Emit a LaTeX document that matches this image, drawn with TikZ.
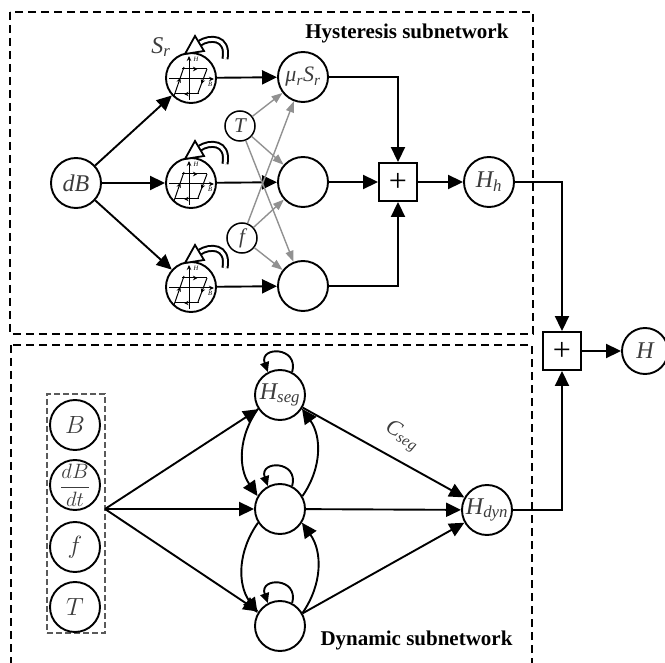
\documentclass[tikz,border=0pt]{standalone}
\usepackage{fontspec}
\setmainfont{Liberation Serif}
\usetikzlibrary{arrows.meta,decorations.markings,calc}
\definecolor{txt}{RGB}{60,60,60}
\definecolor{garr}{RGB}{145,145,145}
\definecolor{boxgray}{RGB}{90,90,90}
\begin{document}
\begin{tikzpicture}[x=1pt,y=1pt,
  every node/.style={text=txt},
  neur/.style={circle,draw=black,line width=1.9pt,minimum size=50pt,inner sep=0pt,font=\fontsize{24}{24}\selectfont\itshape},
  smallnode/.style={circle,draw=black,line width=1.5pt,minimum size=30pt,inner sep=0pt,font=\fontsize{21}{21}\selectfont\itshape},
  sumbox/.style={rectangle,draw=black,line width=1.9pt,minimum size=38pt,inner sep=0pt,font=\fontsize{32}{32}\selectfont,text=black},
  arr/.style={line width=1.9pt,-{Triangle[length=15pt,width=14pt]}},
  garrow/.style={draw=garr,line width=1.4pt,-{Triangle[length=11pt,width=8pt]}},
  loopar/.style={line width=1.9pt,-{Triangle[length=10pt,width=9pt]}},
  subbox/.style={dash pattern=on 8pt off 5pt,line width=2.2pt},
  inbox/.style={draw=boxgray,dash pattern=on 6pt off 3pt,line width=1.4pt},
  ttl/.style={font=\fontsize{21}{21}\selectfont\bfseries,text=black},
  tiny/.style={font=\fontsize{6.5}{6.5}\selectfont\itshape,text=black,inner sep=0pt},
  midarr/.style={postaction={decorate},decoration={markings,mark=at position 0.62 with {\arrow{Stealth[length=4.5pt,width=4.5pt]}}}}
]
\useasboundingbox (0,0) rectangle (665,-663);
\clip (0,0) rectangle (665,-663);

% subnetwork boxes
\draw[subbox] (10,-12) rectangle (533,-334);
\draw[subbox] (11,-345) rectangle (532,-700);
\node[ttl,anchor=base east] (t1) at (512,-39) {Hysteresis subnetwork};
\node[ttl,anchor=base west] (t2) at (317,-645) {Dynamic subnetwork};

% ---------- hysteresis subnetwork ----------
\node[neur] (dB) at (76,-183) {dB};
\node[neur] (s1) at (191,-78) {};
\node[neur] (s2) at (191,-183) {};
\node[neur] (s3) at (191,-287) {};
\node[font=\fontsize{24}{24}\selectfont\itshape] (sr) at (161,-47) {S\textsubscript{r}};

\foreach \s in {s1,s2,s3}{
  \begin{scope}[shift={(\s.center)}]
    \draw[line width=1pt,-{Stealth[length=5pt,width=4.5pt]}] (-2,-22) -- (-2,22);
    \draw[line width=1pt,-{Stealth[length=5pt,width=4.5pt]}] (-22,-1) -- (23,-1);
    \node[tiny] at (5,19) {H};
    \node[tiny] at (19,-6) {B};
    \draw[line width=1pt,midarr] (-9,9) -- (16,9);
    \draw[line width=1pt,midarr] (16,9) -- (7,-15);
    \draw[line width=1pt,midarr] (8,-16) -- (-16,-16);
    \draw[line width=1pt,midarr] (-17,-18) -- (-7,11);
    \draw[line width=2pt,double=white,double distance=3pt] (34,19) .. controls (38,42) and (18,41) .. (9,35);
    \filldraw[fill=white,draw=black,line width=1.8pt,line join=miter] (-6,24) -- (13,27) -- (4,42) -- cycle;
  \end{scope}
}

\node[neur,font=\fontsize{22}{22}\selectfont\itshape] (r1) at (303,-77) {μ\textsubscript{r}S\textsubscript{r}};
\node[neur] (r2) at (303,-182) {};
\node[neur] (r3) at (303,-286) {};
\node[smallnode] (T) at (240,-126) {T};
\node[smallnode] (f) at (242,-238) {f};

\node[sumbox] (p1) at (398,-182) {+};
\node[neur] (hh) at (489,-182) {H\textsubscript{h}};
\node[sumbox] (p2) at (562,-351) {+};
\node[neur,minimum size=46pt] (H) at (645,-351) {H};

\draw[arr] (dB) -- (s1);
\draw[arr] (dB) -- (s2);
\draw[arr] (dB) -- (s3);
\draw[arr] (s1) -- (r1);
\draw[arr] (s2) -- (r2);
\draw[arr] (s3) -- (r3);
\foreach \a in {T,f}{
  \foreach \b in {r1,r2,r3}{
    \draw[garrow] (\a) -- (\b);
  }
}
\draw[arr] (r1.east) -| (p1.north);
\draw[arr] (r2) -- (p1);
\draw[arr] (r3.east) -| (p1.south);
\draw[arr] (p1) -- (hh);
\draw[arr] (hh.east) -| (p2.north);
\draw[arr] (p2) -- (H);

% ---------- dynamic subnetwork ----------
\node[inbox,minimum width=58pt,minimum height=239pt,inner sep=0pt] (ibox) at (76,-513.5) {};
\node[neur] (B) at (75,-425) {$B$};
\node[neur,inner sep=-6pt,font=\fontsize{22}{22}\selectfont] (dbdt) at (75,-485) {$\displaystyle\frac{dB}{dt}$};
\node[neur] (fb) at (75,-547) {$f$};
\node[neur] (Tb) at (75,-607) {$T$};
\coordinate (fan) at (105,-509);

\node[neur] (hs) at (280,-395) {H\textsubscript{seg}};
\node[neur] (m2) at (280,-509) {};
\node[neur] (m3) at (280,-626) {};
\node[neur] (hd) at (487,-510) {H\textsubscript{dyn}};

\draw[arr] (fan) -- (hs);
\draw[arr] (fan) -- (m2);
\draw[arr] (fan) -- (m3);
\draw[arr] (hs) -- (hd);
\node[font=\fontsize{22}{22}\selectfont\itshape,rotate=-30] (cs) at (402,-436) {C\textsubscript{seg}};
\draw[arr] (m2) -- (hd);
\draw[arr] (m3) -- (hd);
\draw[arr] (hd.east) -| (p2.south);

\draw[arr] (hs.212) to[bend right=35] (m2.150);
\draw[arr] (m2.30) to[bend right=35] (hs.-32);
\draw[arr] (m2.212) to[bend right=35] (m3.150);
\draw[arr] (m3.30) to[bend right=35] (m2.-32);

\foreach \n in {hs,m2,m3}{
  \draw[loopar] (\n.62) .. controls +(7,26) and +(-9,26) .. (\n.118);
}
\end{tikzpicture}
\end{document}
